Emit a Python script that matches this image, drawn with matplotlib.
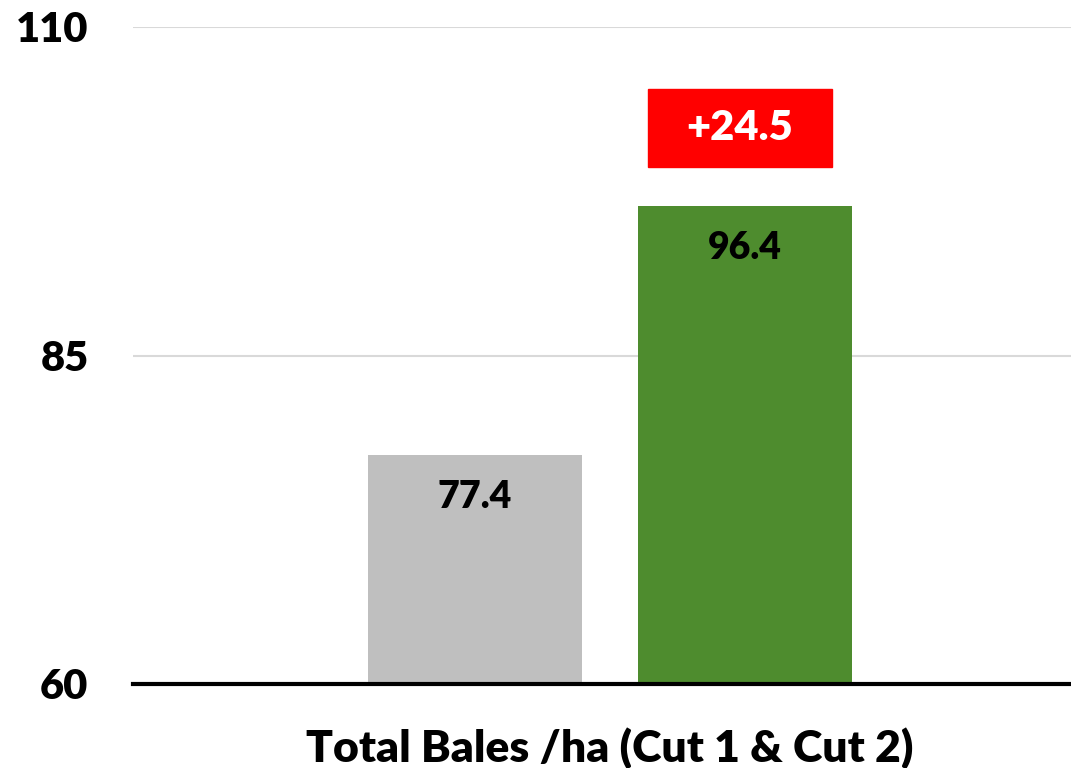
import matplotlib.pyplot as plt
from matplotlib.patches import Rectangle

plt.rcParams['font.family'] = ['Lato', 'DejaVu Sans']
plt.rcParams['font.weight'] = 'heavy'

category = 'Total Bales /ha (Cut 1 & Cut 2)'
values = [77.4, 96.4]
colors = ['#bfbfbf', '#4e8c2e']
change_label = '+24.5'
y_ticks = [60, 85, 110]

fig = plt.figure(figsize=(10.71, 7.68), dpi=100)
ax = fig.add_axes([133 / 1071, 1 - 684 / 768, 938 / 1071, (684 - 27) / 768])

offset = 0.1442
width = 0.228
xs = [-offset, offset]
bars = ax.bar(xs, [v - 60 for v in values], bottom=60, width=width, color=colors, zorder=3)

for x, v in zip(xs, values):
    ax.text(x, v - 3.2, f'{v:.1f}', ha='center', va='center', fontsize=27,
            fontweight='heavy', color='black', zorder=4)

# red change box above the green bar
bx = xs[1] - 0.006
by = values[1] + 2.95
ax.add_patch(Rectangle((bx - 0.098, by), 0.196, 5.93, color='#ff0000', zorder=4, clip_on=False))
ax.text(bx, by + 5.93 / 2, change_label, ha='center', va='center', fontsize=30,
        fontweight='heavy', color='white', zorder=5)

ax.set_ylim(60, 110)
ax.set_xlim(-0.5085, 0.4915)
ax.set_yticks(y_ticks)
ax.set_yticklabels([str(t) for t in y_ticks], fontsize=30, fontweight='heavy')
ax.set_xticks([0])
ax.set_xticklabels([category], fontsize=32, fontweight='heavy')
ax.tick_params(axis='y', length=0, pad=32)
ax.tick_params(axis='x', length=0, pad=31)

ax.grid(axis='y', color='#d9d9d9', linewidth=1.5, zorder=0)
for side in ['top', 'right', 'left']:
    ax.spines[side].set_visible(False)
ax.spines['bottom'].set_linewidth(3)
ax.spines['bottom'].set_zorder(5)

fig.savefig('out.png', dpi=100)
